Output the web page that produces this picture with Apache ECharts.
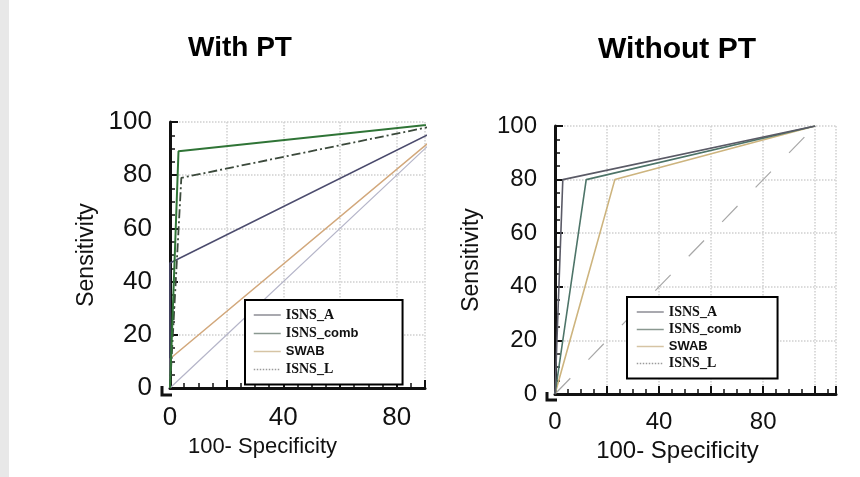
<!DOCTYPE html>
<html>
<head>
    <meta charset="UTF-8">
    <title>ROC with / without PT</title>
    <style>
        html, body { margin: 0; padding: 0; background: #fff; }
        #main { width: 860px; height: 477px; }
    </style>
</head>
<body>
<div id="main"></div>
<script src="https://cdn.jsdelivr.net/npm/echarts@6/dist/echarts.min.js"></script>
<script>
    // ROC points [100-specificity, sensitivity]
    var withA = [[0, 0], [0, 47], [100, 100]];
    var withComb = [[0, 0], [3, 89], [100, 100]];
    var withSwab = [[0, 0], [0, 11], [100, 100]];
    var withL = [[0, 0], [4, 79], [100, 100]];
    var withoutA = [[0, 0], [3, 80], [100, 100]];
    var withoutComb = [[0, 0], [12, 80], [100, 100]];
    var withoutSwab = [[0, 0], [23, 80], [100, 100]];
    var diagonal = [[0, 0], [100, 100]];
    var names = ['ISNS_A', 'ISNS_comb', 'SWAB', 'ISNS_L'];
    var titles = ['With PT', 'Without PT'];

    var sans = 'Liberation Sans, Arial, sans-serif';
    var serif = 'Liberation Serif, Times New Roman, serif';

    function xAxisOpt(idx, max, off, gap, pad, fs, nfs) {
        return {
            type: 'value', gridIndex: idx, min: 0, max: max, interval: 20, offset: off,
            name: '100- Specificity', nameLocation: 'middle', nameGap: gap,
            nameTextStyle: {fontFamily: sans, fontSize: nfs, color: '#111', padding: [0, pad, 0, 0]},
            axisLine: {lineStyle: {color: '#111', width: 3}},
            axisTick: {inside: true, length: 8, lineStyle: {color: '#111', width: 2}},
            minorTick: {show: true, splitNumber: 4, length: 5, lineStyle: {color: '#111', width: 1.5}},
            axisLabel: {
                fontFamily: sans, fontSize: fs, color: '#111', margin: 10,
                formatter: function (v) { return v % 40 === 0 ? v : ''; }
            },
            splitLine: {show: true, lineStyle: {color: '#cfcfcf', type: 'dotted', width: 1.5}}
        };
    }

    function yAxisOpt(idx, gap, fs) {
        return {
            type: 'value', gridIndex: idx, min: 0, max: 100, interval: 20, offset: 8,
            name: 'Sensitivity', nameLocation: 'middle', nameGap: gap,
            nameTextStyle: {fontFamily: sans, fontSize: 23, color: '#111'},
            axisLine: {show: true, lineStyle: {color: '#111', width: 3}},
            axisTick: {show: true, inside: true, length: 8, lineStyle: {color: '#111', width: 2}},
            minorTick: {show: true, splitNumber: 4, length: 5, lineStyle: {color: '#111', width: 1.5}},
            axisLabel: {fontFamily: sans, fontSize: fs, color: '#111', margin: 10},
            splitLine: {show: true, lineStyle: {color: '#cfcfcf', type: 'dotted', width: 1.5}}
        };
    }

    function line(name, idx, data, color, type, width) {
        return {
            name: name, type: 'line', xAxisIndex: idx, yAxisIndex: idx, data: data,
            symbol: 'none', silent: true, clip: true, z: 3,
            lineStyle: {color: color, width: width || 1.6, type: type || 'solid'},
            itemStyle: {color: color}
        };
    }

    function legendOpt(left, top, padding, gap, colors) {
        return {
            left: left, top: top, orient: 'vertical',
            backgroundColor: '#fff', borderColor: '#000', borderWidth: 2, borderRadius: 0,
            padding: padding, itemGap: gap, itemWidth: 27, itemHeight: 14, itemTextGap: 8,
            selectedMode: false,
            data: names.map(function (n, i) {
                return {
                    name: n,
                    itemStyle: {opacity: 0},
                    lineStyle: {color: colors[i], width: 1.5, type: i === 3 ? 'dotted' : 'solid'}
                };
            }),
            formatter: function (n) {
                if (n === 'ISNS_comb') return '{s|ISNS_}{a|comb}';
                if (n === 'SWAB') return '{a|SWAB}';
                return '{s|' + n + '}';
            },
            textStyle: {
                rich: {
                    s: {fontFamily: serif, fontWeight: 'bold', fontSize: 14, color: '#111'},
                    a: {fontFamily: sans, fontWeight: 'bold', fontSize: 13, color: '#111'}
                }
            }
        };
    }

    var chart = echarts.init(document.getElementById('main'));
    var option = {
        backgroundColor: '#fff',
        animation: false,
        title: [
            {text: titles[0], left: 183, top: 29, textStyle: {fontFamily: sans, fontSize: 28, fontWeight: 'bold', color: '#000'}},
            {text: titles[1], left: 593, top: 30, textStyle: {fontFamily: sans, fontSize: 30, fontWeight: 'bold', color: '#000'}}
        ],
        grid: [
            {left: 170, top: 122, width: 255, height: 266},
            {left: 555, top: 126, width: 281, height: 268}
        ],
        xAxis: [xAxisOpt(0, 90, 7, 38, 70, 26, 22), xAxisOpt(1, 108, 6, 36, 36, 24, 24)],
        yAxis: [yAxisOpt(0, 64, 26), yAxisOpt(1, 64, 24)],
        legend: [
            legendOpt(245, 300, [8, 44, 8, 8], 4.5, ['#8c8c94', '#8a9890', '#d6c4a4', '#9a9a9a']),
            legendOpt(627, 297, [8, 36, 8, 9], 3.5, ['#8c8c94', '#8a9890', '#d6c4a4', '#9a9a9a'])
        ],
        series: [
            line('ref', 0, diagonal, '#b4b4c8', 'solid', 1.2),
            line('SWAB', 0, withSwab, '#d2a87c'),
            line('ISNS_A', 0, withA, '#4c4c6e'),
            line('ISNS_L', 0, withL, '#3c4a3c', [9, 3, 2, 3], 1.8),
            line('ISNS_comb', 0, withComb, '#2f7436', 'solid', 2),
            line('ref', 1, diagonal, '#a8a8a8', [22, 26], 1.2),
            line('SWAB', 1, withoutSwab, '#cdb47e'),
            line('ISNS_comb', 1, withoutComb, '#4d7468'),
            line('ISNS_A', 1, withoutA, '#5a5a66')
        ],
        graphic: [
            {type: 'rect', shape: {x: 0, y: 0, width: 9, height: 477}, style: {fill: '#e8e8e8'}},
            {type: 'polyline', shape: {points: [[162, 386], [162, 395], [172, 395]]}, style: {stroke: '#111', lineWidth: 3, fill: null}},
            {type: 'polyline', shape: {points: [[547, 392], [547, 400], [557, 400]]}, style: {stroke: '#111', lineWidth: 3, fill: null}}
        ]
    };
    chart.setOption(option);
</script>
</body>
</html>
